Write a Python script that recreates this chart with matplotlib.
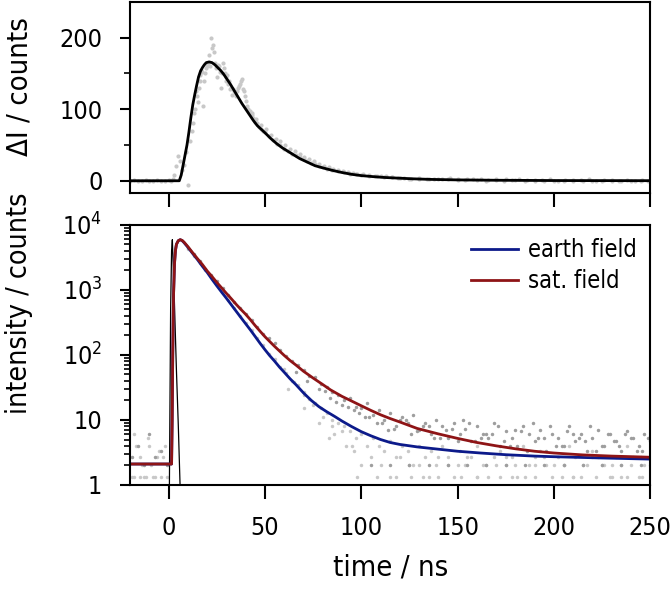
import numpy as np
from matplotlib import pyplot as plt
from matplotlib.ticker import FixedLocator, FixedFormatter, LogLocator, NullFormatter

plt.rcParams['font.family'] = ['DejaVu Sans']
plt.rcParams['font.stretch'] = 'condensed'
plt.rcParams['mathtext.fontset'] = 'custom'
plt.rcParams['mathtext.rm'] = 'DejaVu Sans:stretch=condensed'
plt.rcParams['font.size'] = 18
plt.rcParams['xtick.labelsize'] = 18
plt.rcParams['ytick.labelsize'] = 18
plt.rcParams['xtick.direction'] = 'out'
plt.rcParams['ytick.direction'] = 'out'
plt.rcParams['xtick.major.size'] = 7
plt.rcParams['xtick.major.width'] = 1.5
plt.rcParams['xtick.major.pad'] = 12
plt.rcParams['ytick.major.size'] = 7
plt.rcParams['ytick.major.width'] = 1.5
plt.rcParams['ytick.major.pad'] = 13
plt.rcParams['ytick.minor.size'] = 4
plt.rcParams['ytick.minor.width'] = 1.2
plt.rcParams['axes.linewidth'] = 1.5

# ---- top panel: difference signal (data + fit)
dI_t = [-20, -18, -16, -14, -12, -10, -8, -6, -4, -2, 0,
        1, 2, 3, 4, 5, 6, 7, 8, 9, 10, 11, 12, 13, 14, 15, 16, 17, 18, 19, 20,
        21, 22, 23, 24, 25, 26, 27, 28, 29, 30, 31, 32, 33, 34, 35, 36, 37, 38, 39, 40,
        41, 42, 43, 44, 45, 46, 47, 48, 49, 50, 52, 54, 56, 58, 60, 62, 64, 66, 68, 70,
        72, 74, 76, 78, 80, 82, 85, 88, 91, 94, 97, 100, 104, 108, 112, 116, 120, 125,
        130, 135, 140, 145, 150, 155, 160, 165, 170, 175, 180, 185, 190, 195, 200, 205,
        210, 215, 220, 225, 230, 235, 240, 245, 250]
dI_v = [0, 1, -1, 0, 1, 0, -1, 1, 0, 0, 1,
        0, 3, 8, 20, 35, 28, 15, 22, 40, -6, 55, 70, 95, 125, 110, 140, 155, 105, 150, 160,
        175, 200, 190, 165, 145, 160, 130, 165, 150, 140, 135, 128, 120, 125, 118, 130, 135, 142, 125, 112,
        100, 98, 92, 88, 82, 80, 75, 72, 70, 68, 62, 57, 52, 50, 45, 42, 38, 36, 33, 30,
        28, 25, 23, 20, 19, 17, 15, 13, 12, 10, 9, 8, 7, 6, 5, 5, 4, 3,
        3, 2, 2, 2, 1, 2, 1, 0, 1, 2, 1, 0, 1, 0, -1, 0,
        1, 0, -1, 0, 1, 0, -1, 0, 0]
dI2_t = [12.5, 13.5, 14.5, 15.5, 16.5, 17.5, 18.5, 19.5, 20.5, 21.5, 22.5, 23.5, 24.5,
         25.5, 26.5, 27.5, 28.5, 29.5, 30.5, 31.5, 32.5, 33.5, 34.5, 35.5, 36.5, 37.5,
         38.5, 39.5,
         40.5, 43, 45.5, 48, 50.5, 53, 55.5, 58, 60.5, 63, 65.5, 68, 70.5, 73, 75.5, 78,
         80.5, 83, 85.5, 88, 90.5, 93, 95.5, 98, 101, 104, 107, 110, 113, 116, 119, 122,
         126, 130, 134, 138, 142, 146, 150, 154, 158, 162, 166, 170, 174, 178, 182, 186,
         190, 194, 198, 202, 206, 210, 214, 218, 222, 226, 230, 234, 238, 242, 246, 249]
dI2_v = [80, 100, 118, 130, 148, 152, 140, 158, 165, 160, 185, 180, 158,
         162, 152, 150, 158, 145, 148, 140, 130, 128, 122, 125, 132, 140,
         128, 118,
         105, 95, 86, 78, 72, 64, 58, 55, 50, 44, 41, 37, 33, 30, 27, 24,
         21, 19, 17, 15, 14, 12, 11, 10, 9, 8, 7, 6, 6, 5, 4, 4,
         3, 4, 3, 2, 3, 4, 2, 1, 2, 3, 1, 2, 0, 1, 2, 1,
         0, 1, 2, 0, 1, 0, 1, 2, 0, 1, -1, 0, 1, 0, 1, 0]

fit_t = [-20, 0, 5.5, 6.5, 7.5, 8.5, 9.5, 10.5, 11.5, 12.5, 13.5, 14.5, 15.5, 16.5,
         17.5, 18.5, 19.5, 21, 22.5, 24, 25.5, 27, 28.5, 30, 32, 34, 36, 38, 40, 42, 44,
         46, 48, 50, 53, 56, 59, 62, 65, 68, 72, 76, 80, 85, 90, 95, 100, 106, 112, 119,
         127, 136, 150, 170, 200, 250]
fit_v = [0, 0, 0, 8, 22, 36, 50, 68, 88, 106, 120, 133, 145, 153,
         158, 162, 165, 166, 165, 162, 158, 154, 149, 143, 135, 126, 117, 108, 100, 92, 84,
         77, 72, 67, 59, 52, 46, 41, 36, 31, 26, 21, 18, 14.5, 11.5, 9, 7.2, 5.8, 4.6, 3.7,
         2.7, 1.9, 1.2, 0.7, 0.3, 0.1]

# ---- bottom panel: fluorescence decays
earth_t = [-19, -18, -17, -15, -14, -13, -11, -10, -9, -7, -6, -5, -3, -2, -1,
           10, 13, 16, 19, 22, 25, 28, 31, 34, 37, 40, 43, 46, 49, 52, 55, 58, 61, 62, 64,
           67, 70, 70, 73, 76, 78, 79, 82, 83, 85, 86, 88, 91, 92, 94, 96, 97, 100, 103, 106,
           109, 112, 115, 118, 121, 124, 127, 130, 133, 136, 139, 142, 145, 148, 151, 154,
           157, 160, 163, 166, 169, 172, 175, 178, 181, 184, 187, 190, 193, 196, 199, 202,
           205, 208, 211, 214, 217, 220, 223, 226, 229, 232, 235, 238, 241, 244, 247, 250]
earth_v = [1.33, 6, 4, 2.67, 2, 1.33, 5.3, 4, 2, 1.33, 2.67, 3.3, 2.67, 4, 1.33,
           4200, 3300, 2600, 2000, 1550, 1200, 900, 700, 520, 400, 310, 240, 180, 140, 105, 85, 66, 52, 30, 40,
           34, 27, 15, 21, 18, 9, 15, 13, 5.3, 10, 6, 9, 8, 4, 6.7, 3.3, 5.3, 6, 4, 5.3,
           4, 3.3, 4.7, 2.67, 4, 3.3, 2, 4, 2.67, 3.3, 2, 4, 2.67, 1.33, 3.3, 2,
           2.67, 4, 2, 1.33, 2.67, 3.3, 2, 2.67, 1.33, 4, 2, 2.67, 3.3, 2, 1.33, 2.67,
           2, 4, 2.67, 1.33, 2, 3.3, 2.67, 2, 1.33, 2.67, 2, 4, 2.67, 1.33, 2, 2.67]
earth2_t = [60, 65, 70, 75, 80, 85, 90, 95, 100, 105, 110, 115, 120, 125, 130, 135, 140,
            145, 150, 155, 160, 165, 170, 175, 180, 185, 190, 195, 200, 205, 210, 215, 220,
            225, 230, 235, 240, 245, 250]
earth2_v = [60, 38, 24, 17, 11, 8, 6.7, 4, 2, 2.67, 2, 1.33, 2.67, 2, 2, 1.33, 2.67,
            2, 2, 2.67, 1.33, 2, 2, 2.67, 2, 1.33, 2, 2.67, 2, 2, 1.33, 2, 2.67,
            2, 2, 1.33, 2, 2.67, 2]
earth3_t = [-18, -15, -12, -8, -4, 98, 108, 118, 126, 132, 140, 152, 160, 172, 178, 190,
            204, 210, 222, 230, 238, 246]
earth3_v = [1.33, 1.33, 1.33, 1.33, 1.33, 1.33, 1.33, 1.33, 1.33, 1.33, 1.33, 1.33, 1.33,
            1.33, 1.33, 1.33, 1.33, 1.33, 1.33, 1.33, 1.33, 1.33]

sat_t = [-19, -16, -13, -10, -7, -4, -1,
         10, 13, 16, 19, 22, 25, 28, 31, 34, 37, 40, 43, 46, 49, 52, 55, 58, 61, 64, 67,
         70, 73, 76, 79, 82, 85, 88, 91, 94, 97, 100, 103, 106, 109, 112, 115, 118, 121,
         124, 127, 130, 133, 136, 139, 142, 145, 148, 151, 154, 157, 160, 163, 166, 169,
         172, 175, 178, 181, 184, 187, 190, 193, 196, 199, 202, 205, 208, 211, 214, 217,
         220, 223, 226, 229, 232, 235, 238, 241, 244, 247, 250]
sat_v = [2.67, 4, 2, 6, 2.67, 3.3, 2,
         4400, 3500, 2800, 2100, 1700, 1350, 1050, 820, 650, 520, 430, 340, 270, 210, 180, 150, 120, 95, 80, 70,
         58, 48, 45, 36, 32, 27, 24, 20, 22, 16, 15, 18, 12, 14, 10, 13, 8, 11,
         9, 12, 7, 9, 6, 10, 8, 5.3, 9, 6, 7.3, 4.7, 8, 6, 5.3, 9,
         4, 6.7, 5.3, 4, 8, 6, 4.7, 7, 3.3, 6, 5.3, 4, 8, 4.7, 6, 3.3,
         5.3, 7, 4, 6, 4.7, 3.3, 6.7, 5.3, 4, 6, 4.7]
sat2_t = [66, 72, 78, 84, 90, 96, 102, 108, 114, 120, 126, 132, 138, 144, 150, 156, 162,
          168, 174, 180, 186, 192, 198, 204, 210, 216, 222, 228, 234, 240, 246,
          105, 115, 125, 135, 145, 155, 165, 175, 185, 195, 205, 215, 225, 235, 245]
sat2_v = [55, 40, 30, 22, 17, 14, 11, 9, 7, 10, 6, 8, 5.3, 7, 4.7, 9, 5.3,
          6, 4.7, 7, 3.3, 5.3, 8, 4, 6, 4.7, 3.3, 6, 4, 5.3, 3.3,
          2, 2, 2, 2, 2, 2, 2, 2, 2, 2, 2, 2, 2, 2, 2]
sat3_t = [81, 87, 93, 99, 104, 111, 117, 123, 129, 135, 141, 147, 153, 159, 165, 171, 177,
          183, 189, 195, 201, 207, 213, 219, 225, 231, 237, 243, 249]
sat3_v = [28, 19, 16, 13, 11, 9, 7.3, 10, 6.7, 8, 5.3, 7.3, 10, 4.7, 6, 8, 4,
          6.7, 9, 5.3, 4, 6.7, 5.3, 8, 4, 4.7, 6, 3.3, 5.3]

earth_fit_t = [-20, 1.5, 1.8, 2.1, 2.5, 3, 3.5, 4, 5, 6, 7, 8, 10, 12.5, 15, 17.5, 20,
               22.5, 25, 27.5, 30, 32.5, 35, 37.5, 40, 42.5, 45, 47.5, 50, 52.5, 55, 57.5,
               60, 63, 66, 70, 74, 78, 82, 86, 90, 95, 100, 105, 110, 115, 120, 129, 140,
               150, 162, 175, 190, 200, 225, 250]
earth_fit_v = [2.1, 2.1, 10, 100, 800, 2500, 4000, 5000, 5700, 5900, 5700, 5300, 4500,
               3600, 2900, 2300, 1850, 1450, 1150, 920, 740, 590, 470, 375, 300, 240, 190,
               150, 120, 97, 80, 65, 54, 43, 35, 26, 20, 16, 13.4, 11.4, 9.6, 7.9, 6.6,
               5.7, 5.0, 4.5, 4.2, 3.85, 3.55, 3.3, 3.1, 2.92, 2.78, 2.72, 2.6, 2.5]
sat_fit_t = [-20, 1.5, 1.8, 2.1, 2.5, 3, 3.5, 4, 5, 6, 7, 8, 10, 12.5, 15, 17.5, 20,
             22.5, 25, 27.5, 30, 32.5, 35, 37.5, 40, 42.5, 45, 47.5, 50, 52.5, 55, 57.5,
             60, 63, 66, 70, 75, 80, 84, 90, 95, 100, 105, 110, 115, 120, 129, 140, 150,
             160, 170, 180, 190, 200, 215, 230, 250]
sat_fit_v = [2.1, 2.1, 10, 100, 800, 2500, 4000, 5000, 5700, 5900, 5750, 5400, 4600,
             3700, 3000, 2450, 1950, 1600, 1300, 1070, 880, 730, 600, 500, 420, 345, 280,
             230, 190, 160, 135, 115, 98, 82, 70, 56, 44, 35, 29, 23, 19.5, 16.5, 14, 12,
             10.5, 9.3, 7.4, 6.1, 5.2, 4.5, 4.0, 3.6, 3.3, 3.1, 2.9, 2.78, 2.67]

irf_t = [0.3, 0.6, 1.0, 1.5, 1.9, 3, 4, 5, 5.9, 6.5, 7]
irf_v = [0.5, 10, 500, 4000, 5900, 600, 60, 8, 1, 0.8, 0.5]

fig = plt.figure(figsize=(6.71, 5.90), dpi=100)
ax1 = fig.add_axes([0.194, 0.673, 0.775, 0.324])
ax2 = fig.add_axes([0.194, 0.178, 0.775, 0.441])

light = '#c8c8c8'
dark = '#9e9e9e'
ax1.plot(dI_t, dI_v, 'o', color=light, ms=3, mec='none')
ax1.plot(dI2_t, dI2_v, 'o', color=light, ms=3, mec='none')
ax1.plot(fit_t, fit_v, color='k', lw=2)
ax1.set_xlim(-20, 250)
ax1.set_ylim(-17, 250)
ax1.set_yticks([0, 100, 200])
ax1.yaxis.set_minor_locator(FixedLocator([50, 150]))
ax1.set_xticks([0, 50, 100, 150, 200, 250])
ax1.set_xticklabels([])
ax1.set_ylabel('ΔI / counts', fontsize=21)
ax1.yaxis.set_label_coords(-0.186, 0.555)

ax2.set_yscale('log')
for tt, vv in [(earth_t, earth_v), (earth2_t, earth2_v), (earth3_t, earth3_v)]:
    ax2.plot(tt, vv, 'o', color=light, ms=2.5, mec='none')
for tt, vv in [(sat_t, sat_v), (sat2_t, sat2_v), (sat3_t, sat3_v)]:
    ax2.plot(tt, vv, 'o', color=dark, ms=2.5, mec='none')
ax2.plot(irf_t, irf_v, color='k', lw=0.9)
ax2.plot(earth_fit_t, earth_fit_v, color='#0c1a8a', lw=2, label='earth field')
ax2.plot(sat_fit_t, sat_fit_v, color='#8e1416', lw=2, label='sat. field')
ax2.set_xlim(-20, 250)
ax2.set_ylim(1, 1e4)
ax2.yaxis.set_major_locator(FixedLocator([1, 10, 100, 1000, 10000]))
ax2.yaxis.set_major_formatter(FixedFormatter(['1', '10', '$10^2$', '$10^3$', '$10^4$']))
ax2.yaxis.set_minor_locator(LogLocator(base=10, subs=np.arange(2, 10)))
ax2.yaxis.set_minor_formatter(NullFormatter())
ax2.set_xticks([0, 50, 100, 150, 200, 250])
ax2.set_xlabel('time / ns', fontsize=21, labelpad=10)
ax2.set_ylabel('intensity / counts', fontsize=20.5)
ax2.yaxis.set_label_coords(-0.186, 0.70)
ax2.legend(loc='upper right', frameon=False, fontsize=17, handlelength=2.0,
           handletextpad=0.45, borderaxespad=0.15, labelspacing=0.3)

for ax in (ax1, ax2):
    ax.tick_params(axis='x', which='major', length=10)

fig.savefig('out.png', dpi=100)
